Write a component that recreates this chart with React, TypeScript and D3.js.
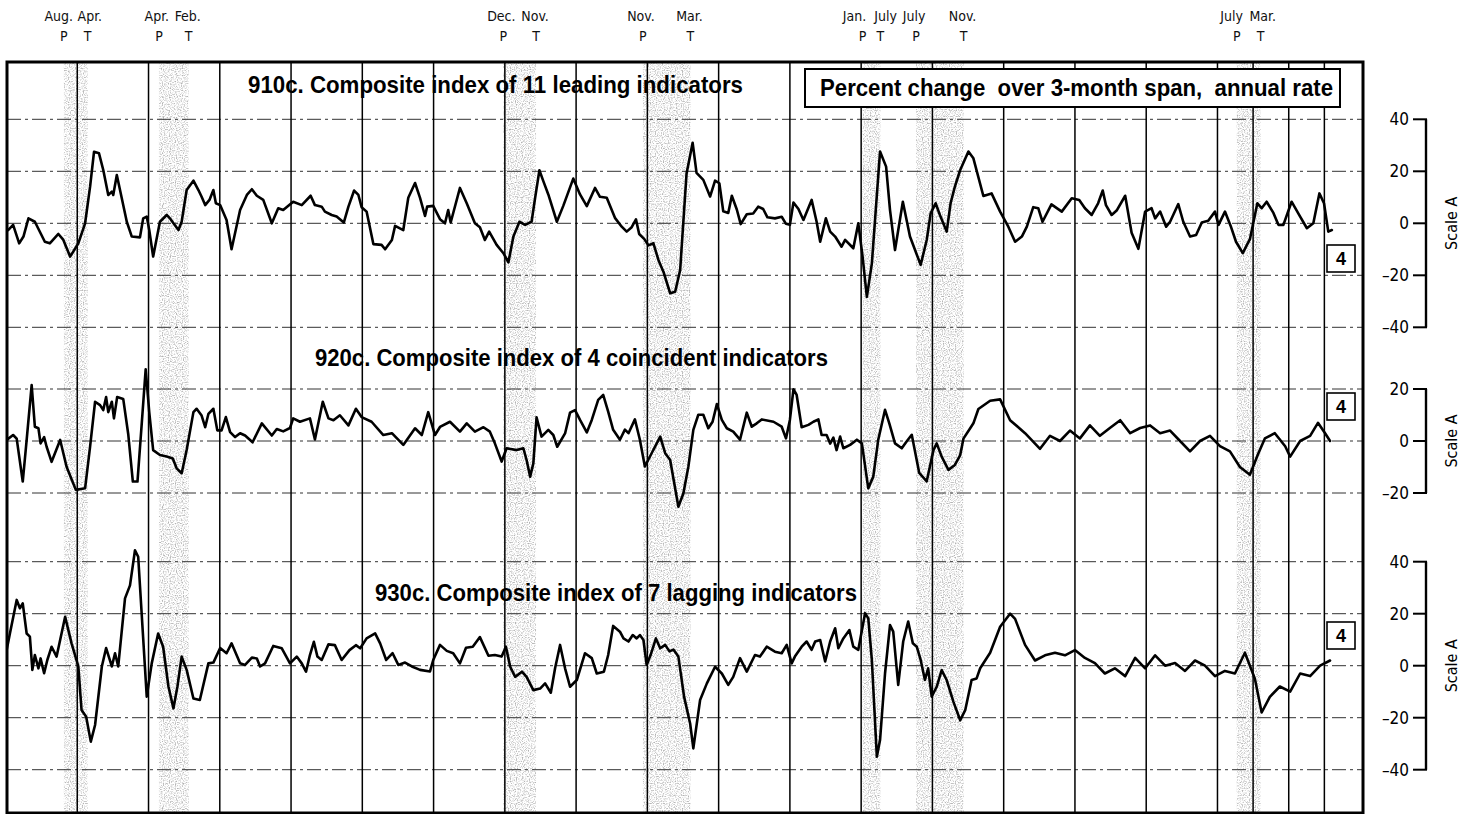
import * as d3 from "d3";

type Pt = [number, number];

// business-cycle turning points (mid-month, decimal years)
const PEAK_DATES = [1957.625, 1960.292, 1969.958, 1973.875, 1980.042, 1981.542, 1990.542];
const TROUGH_DATES = [1958.292, 1961.125, 1970.875, 1975.208, 1980.542, 1982.875, 1991.208];
const PEAK_MONTHS = ["Aug.", "Apr.", "Dec.", "Nov.", "Jan.", "July", "July"];
const TROUGH_MONTHS = ["Apr.", "Feb.", "Nov.", "Mar.", "July", "Nov.", "Mar."];

const GRID_YEARS = [1958, 1960, 1962, 1964, 1966, 1968, 1970, 1972, 1974, 1976, 1978, 1980, 1982, 1984, 1986, 1988, 1990, 1991, 1992, 1993];

const TICKS_40 = [40, 20, 0, -20, -40];
const TICKS_20 = [20, 0, -20];

const TITLES = [
  "910c. Composite index of 11 leading indicators",
  "920c. Composite index of 4 coincident indicators",
  "930c. Composite index of 7 lagging indicators",
];
const UNIT_NOTE = "Percent change  over 3-month span,  annual rate";

// 910c, percent change over 3-month span, annual rate
const LEADING: Pt[] = [
  [1956.06, -2.6], [1956.2, -0.6], [1956.37, -7.7], [1956.49, -5.1], [1956.63, 1.9], [1956.81, 0.6],
  [1957.09, -7.1], [1957.23, -7.7], [1957.47, -4.1], [1957.61, -6.4], [1957.8, -12.8], [1958.03, -7.7],
  [1958.22, 0], [1958.36, 14.1], [1958.47, 27.5], [1958.61, 26.9], [1958.73, 20.5], [1958.87, 10.9],
  [1958.97, 12.2], [1959.01, 10.9], [1959.11, 18.6], [1959.2, 12.8], [1959.39, 0.6], [1959.53, -5.1],
  [1959.76, -5.4], [1959.85, 1.9], [1959.95, 2.6], [1960.02, -2.6], [1960.13, -12.8], [1960.32, 0.6],
  [1960.51, 3.2], [1960.6, 1.9], [1960.7, 0], [1960.84, -2.6], [1960.93, 0.6], [1961.07, 12.8],
  [1961.26, 16.4], [1961.4, 12.8], [1961.49, 10.2], [1961.59, 7.0], [1961.71, 9.0], [1961.82, 12.8],
  [1961.89, 7.7], [1962.01, 7.0], [1962.19, 1.3], [1962.33, -10.0], [1962.57, 5.1], [1962.76, 10.9],
  [1962.9, 13.1], [1963.04, 10.6], [1963.22, 9.0], [1963.46, 0], [1963.64, 5.8], [1963.78, 5.1],
  [1964.06, 8.3], [1964.3, 7.0], [1964.55, 10.6], [1964.67, 7.0], [1964.86, 6.4], [1964.95, 4.5],
  [1965.14, 3.2], [1965.28, 2.6], [1965.48, 0.3], [1965.61, 6.4], [1965.77, 12.6], [1965.89, 10.9],
  [1965.98, 6.2], [1966.12, 4.5], [1966.31, -8.0], [1966.54, -8.3], [1966.64, -10.0], [1966.83, -6.4],
  [1966.92, -1.0], [1967.15, -2.6], [1967.29, 9.8], [1967.48, 15.5], [1967.62, 9.8], [1967.76, 2.8],
  [1967.82, 6.4], [1967.99, 6.7], [1968.18, 1.6], [1968.32, 0], [1968.41, 5.1], [1968.48, 0.3],
  [1968.74, 13.6], [1968.93, 7.7], [1969.16, 0], [1969.3, -1.5], [1969.44, -6.4], [1969.56, -3.2],
  [1969.77, -8.3], [1969.96, -11.5], [1970.1, -15.0], [1970.24, -5.1], [1970.41, 0.6], [1970.57, -0.6],
  [1970.75, 0.6], [1970.85, 9.8], [1970.97, 20.4], [1971.08, 16.2], [1971.22, 11.1], [1971.46, 0.6],
  [1971.64, 6.7], [1971.92, 17.2], [1972.11, 11.1], [1972.3, 6.6], [1972.53, 13.6], [1972.67, 10.2],
  [1972.86, 9.8], [1973.09, 2.1], [1973.28, -1.3], [1973.42, -3.2], [1973.56, -1.5], [1973.68, 1.5],
  [1973.77, -4.1], [1973.91, -6.0], [1974.03, -8.5], [1974.17, -7.7], [1974.31, -14.1], [1974.45, -18.6],
  [1974.64, -26.9], [1974.78, -26.3], [1974.92, -18.0], [1975.1, 19.2], [1975.27, 31.0], [1975.38, 19.4],
  [1975.57, 16.7], [1975.76, 10.3], [1975.9, 16.4], [1976.02, 15.4], [1976.13, 4.6], [1976.27, 4.0],
  [1976.37, 10.6], [1976.51, 5.3], [1976.62, -0.3], [1976.79, 3.5], [1976.97, 3.8], [1977.11, 6.4],
  [1977.25, 5.5], [1977.37, 2.3], [1977.58, 1.9], [1977.77, 2.5], [1977.89, -0.2], [1978.0, -0.6],
  [1978.1, 8.0], [1978.24, 5.5], [1978.38, 1.3], [1978.61, 9.0], [1978.75, 0.6], [1978.85, -7.1],
  [1979.01, 1.9], [1979.13, -3.2], [1979.27, -5.1], [1979.45, -9.0], [1979.55, -6.4], [1979.78, -9.6],
  [1979.92, 0], [1980.04, -12.8], [1980.16, -28.3], [1980.3, -15.5], [1980.53, 27.6], [1980.7, 21.8],
  [1980.81, 5.1], [1980.95, -10.3], [1981.17, 8.3], [1981.37, -5.1], [1981.67, -16.0], [1981.84, -6.4],
  [1981.95, 3.8], [1982.09, 7.7], [1982.21, 3.2], [1982.4, -3.2], [1982.51, 7.7], [1982.63, 14.1],
  [1982.78, 20.5], [1983.01, 27.6], [1983.15, 25.0], [1983.43, 10.5], [1983.66, 11.5], [1983.9, 4.5],
  [1984.13, -1.3], [1984.32, -7.1], [1984.51, -5.1], [1984.65, -1.3], [1984.83, 6.2], [1984.97, 5.8],
  [1985.09, 0.6], [1985.34, 7.3], [1985.63, 4.5], [1985.91, 9.6], [1986.12, 9.0], [1986.28, 5.8],
  [1986.47, 3.2], [1986.65, 7.7], [1986.78, 12.6], [1986.87, 7.0], [1987.03, 3.2], [1987.17, 4.9],
  [1987.41, 10.6], [1987.59, -3.6], [1987.78, -9.8], [1987.97, 4.5], [1988.15, 5.8], [1988.25, 1.9],
  [1988.39, 4.5], [1988.56, -1.3], [1988.67, 0.6], [1988.9, 7.4], [1989.04, 0.6], [1989.23, -5.1],
  [1989.4, -4.5], [1989.56, 0.3], [1989.74, 1.0], [1989.93, 4.5], [1990.03, -0.6], [1990.21, 4.5],
  [1990.37, -1.0], [1990.52, -7.1], [1990.71, -11.5], [1990.91, -6.1], [1991.12, 7.7], [1991.24, 5.8],
  [1991.38, 8.3], [1991.57, 4.0], [1991.71, -0.6], [1991.85, -0.6], [1992.08, 8.3], [1992.32, 2.6],
  [1992.51, -1.9], [1992.69, 0], [1992.86, 11.5], [1992.99, 7.7], [1993.11, -3.2], [1993.21, -2.6],
];

// 920c
const COINCIDENT: Pt[] = [
  [1956.02, 0.4], [1956.2, 2.3], [1956.3, 0.9], [1956.47, -15.6], [1956.58, 0.4], [1956.72, 21.5],
  [1956.81, 5.5], [1956.91, 4.9], [1956.97, -0.9], [1957.07, 1.5], [1957.14, -2.2], [1957.28, -8.0],
  [1957.52, 0.4], [1957.7, -9.9], [1957.96, -18.8], [1958.22, -18.2], [1958.36, -2.2], [1958.5, 15.1],
  [1958.64, 13.8], [1958.73, 11.9], [1958.81, 16.9], [1958.87, 11.1], [1958.97, 15.1], [1959.03, 8.7],
  [1959.12, 16.9], [1959.29, 16.2], [1959.43, 2.7], [1959.56, -15.6], [1959.69, -15.6], [1959.81, 6.8],
  [1959.92, 27.6], [1960.02, 11.1], [1960.13, -3.5], [1960.32, -5.4], [1960.51, -6.0], [1960.68, -6.7],
  [1960.79, -10.5], [1960.93, -12.4], [1961.07, -3.5], [1961.26, 11.1], [1961.35, 12.4], [1961.49, 9.8],
  [1961.59, 5.3], [1961.68, 10.4], [1961.82, 12.4], [1961.93, 4.1], [1962.05, 4.1], [1962.17, 9.2],
  [1962.29, 3.4], [1962.43, 1.5], [1962.57, 3.0], [1962.71, 2.1], [1962.92, -0.5], [1963.18, 6.8],
  [1963.46, 2.1], [1963.6, 4.6], [1963.78, 3.7], [1963.97, 5.0], [1964.06, 8.7], [1964.25, 7.4],
  [1964.53, 8.7], [1964.67, 0.6], [1964.89, 15.1], [1965.05, 8.7], [1965.19, 8.0], [1965.37, 9.9],
  [1965.61, 6.0], [1965.82, 12.4], [1965.98, 9.2], [1966.26, 7.4], [1966.59, 2.3], [1966.83, 3.0],
  [1967.15, -1.5], [1967.48, 4.9], [1967.67, 2.3], [1967.85, 11.1], [1968.04, 2.3], [1968.18, 5.4],
  [1968.46, 7.4], [1968.74, 3.6], [1968.93, 6.8], [1969.16, 3.6], [1969.4, 5.3], [1969.58, 3.6],
  [1969.72, -0.9], [1969.91, -7.9], [1970.05, -2.8], [1970.33, -3.5], [1970.52, -2.8], [1970.61, -7.3],
  [1970.71, -13.7], [1970.8, -8.6], [1970.89, 9.1], [1971.03, 1.7], [1971.22, 4.3], [1971.36, 2.3],
  [1971.47, -2.2], [1971.69, 2.9], [1971.83, 10.9], [1971.97, 11.9], [1972.11, 8.1], [1972.3, 3.3],
  [1972.44, 8.1], [1972.62, 15.8], [1972.76, 17.7], [1972.9, 11.3], [1973.04, 4.3], [1973.23, 0.5],
  [1973.37, 4.4], [1973.47, 3.0], [1973.65, 8.3], [1973.79, 0.5], [1973.93, -9.8], [1974.12, -4.7],
  [1974.36, 1.7], [1974.5, -4.7], [1974.64, -7.3], [1974.87, -25.3], [1975.01, -20.2], [1975.15, -9.9],
  [1975.29, 4.3], [1975.43, 10.1], [1975.57, 10.1], [1975.71, 4.9], [1975.83, 7.4], [1975.95, 14.2],
  [1976.09, 8.1], [1976.23, 4.9], [1976.41, 3.6], [1976.6, 0.5], [1976.79, 10.9], [1976.93, 5.5],
  [1977.07, 6.8], [1977.21, 8.3], [1977.54, 7.4], [1977.77, 5.5], [1977.89, 1.0], [1978.0, 8.1],
  [1978.1, 19.9], [1978.19, 17.7], [1978.33, 5.3], [1978.52, 6.2], [1978.66, 7.4], [1978.8, 8.3],
  [1978.89, 2.3], [1979.03, 2.3], [1979.13, -1.0], [1979.22, 1.3], [1979.31, -3.5], [1979.41, 1.7],
  [1979.5, -2.8], [1979.69, -1.5], [1979.88, 0.5], [1980.02, -0.9], [1980.2, -18.2], [1980.34, -13.7],
  [1980.48, 0.5], [1980.67, 12.0], [1980.79, 6.8], [1980.95, -0.9], [1981.14, -2.8], [1981.28, -0.1],
  [1981.42, 2.4], [1981.63, -12.3], [1981.84, -15.5], [1982.03, -3.5], [1982.12, -0.9], [1982.26, -6.0],
  [1982.45, -11.1], [1982.63, -9.2], [1982.78, -5.4], [1982.87, 0.9], [1983.06, 4.9], [1983.15, 6.8],
  [1983.29, 12.3], [1983.62, 15.5], [1983.9, 16.0], [1984.18, 8.0], [1984.6, 3.0], [1985.02, -3.0],
  [1985.3, 2.0], [1985.58, 0], [1985.86, 4.0], [1986.14, 1.0], [1986.42, 6.0], [1986.7, 2.0],
  [1986.98, 5.0], [1987.27, 8.0], [1987.55, 3.0], [1987.83, 5.0], [1988.11, 6.0], [1988.39, 3.0],
  [1988.67, 4.0], [1988.95, 0], [1989.23, -4.0], [1989.51, 0], [1989.79, 2.0], [1990.07, -2.0],
  [1990.35, -4.0], [1990.63, -10.0], [1990.91, -13.0], [1991.14, -5.0], [1991.33, 1.0], [1991.61, 3.0],
  [1991.9, -2.0], [1992.04, -6.0], [1992.32, 0], [1992.6, 2.0], [1992.82, 7.0], [1993.02, 3.0],
  [1993.16, 0],
];

// 930c
const LAGGING: Pt[] = [
  [1956.0, 4.8], [1956.11, 12.4], [1956.3, 25.3], [1956.39, 22.1], [1956.47, 24.0], [1956.58, 12.4],
  [1956.67, 11.2], [1956.74, -1.6], [1956.81, 4.1], [1956.91, -1.0], [1956.97, 2.8], [1957.07, -2.9],
  [1957.16, 2.2], [1957.28, 7.3], [1957.42, 3.5], [1957.66, 18.8], [1957.84, 8.6], [1958.03, -0.3],
  [1958.12, -17.0], [1958.25, -19.6], [1958.38, -29.2], [1958.5, -22.8], [1958.69, -0.3], [1958.81, 6.8],
  [1958.97, -0.3], [1959.06, 4.8], [1959.15, -0.3], [1959.34, 25.9], [1959.48, 30.9], [1959.62, 44.4],
  [1959.71, 41.9], [1959.95, -11.9], [1960.09, 0.9], [1960.27, 12.4], [1960.41, 7.3], [1960.56, -8.1],
  [1960.7, -16.4], [1960.81, -8.1], [1960.93, 3.5], [1961.07, -1.6], [1961.26, -12.6], [1961.44, -13.2],
  [1961.68, 0.9], [1961.82, 1.2], [1962.01, 6.8], [1962.19, 4.8], [1962.33, 8.6], [1962.57, 0.9],
  [1962.71, 0.3], [1962.9, 3.1], [1963.04, 2.8], [1963.13, -0.3], [1963.27, 0.9], [1963.5, 7.6],
  [1963.74, 6.7], [1963.97, 0.9], [1964.16, 3.5], [1964.3, 0.9], [1964.42, -2.3], [1964.53, 4.1],
  [1964.64, 9.2], [1964.74, 3.5], [1964.86, 2.2], [1965.05, 8.2], [1965.23, 7.9], [1965.42, 2.2],
  [1965.64, 6.0], [1965.82, 7.9], [1965.94, 6.7], [1966.12, 10.5], [1966.36, 12.4], [1966.5, 8.6],
  [1966.67, 2.2], [1966.85, 4.8], [1967.01, 0.3], [1967.2, 1.2], [1967.39, -0.3], [1967.62, -1.6],
  [1967.9, -2.2], [1967.99, 2.2], [1968.18, 8.0], [1968.37, 5.7], [1968.55, 4.8], [1968.74, 0.9],
  [1968.91, 6.9], [1969.1, 7.3], [1969.3, 11.0], [1969.54, 3.8], [1969.72, 4.1], [1969.91, 3.5],
  [1970.03, 7.3], [1970.15, -0.4], [1970.29, -4.3], [1970.48, -2.3], [1970.61, -4.3], [1970.8, -9.4],
  [1970.99, -8.8], [1971.13, -6.8], [1971.29, -10.4], [1971.41, -1.0], [1971.55, 8.0], [1971.69, -1.0],
  [1971.83, -8.1], [1972.02, -5.5], [1972.25, 4.8], [1972.44, 2.9], [1972.58, -3.0], [1972.78, -2.3],
  [1972.9, 4.1], [1973.04, 15.3], [1973.23, 13.1], [1973.33, 10.5], [1973.47, 9.3], [1973.59, 11.8],
  [1973.7, 10.5], [1973.79, 11.8], [1973.89, 9.9], [1973.98, 0.3], [1974.09, 4.1], [1974.24, 10.5],
  [1974.36, 6.7], [1974.5, 8.0], [1974.62, 5.5], [1974.73, 6.2], [1974.87, 3.5], [1975.03, -11.9],
  [1975.2, -22.2], [1975.29, -31.8], [1975.48, -13.2], [1975.67, -6.8], [1975.9, -0.4], [1976.09, -3.0],
  [1976.27, -7.4], [1976.41, -4.3], [1976.6, 2.9], [1976.79, -2.3], [1977.02, 4.1], [1977.16, 3.5],
  [1977.35, 7.3], [1977.58, 5.4], [1977.77, 4.8], [1977.91, 8.0], [1978.05, 0.9], [1978.14, 3.5],
  [1978.33, 7.3], [1978.47, 9.3], [1978.61, 6.1], [1978.71, 9.3], [1978.85, 9.9], [1978.99, 1.6],
  [1979.13, 9.3], [1979.27, 14.4], [1979.36, 6.7], [1979.5, 10.5], [1979.67, 13.7], [1979.78, 7.3],
  [1979.92, 6.1], [1980.11, 20.2], [1980.2, 18.2], [1980.3, 2.2], [1980.44, -35.0], [1980.53, -28.6],
  [1980.67, -3.0], [1980.81, 15.6], [1980.9, 13.1], [1981.04, -7.4], [1981.18, 9.3], [1981.32, 17.0],
  [1981.45, 8.6], [1981.56, 7.3], [1981.67, 2.2], [1981.79, -5.5], [1981.88, -1.0], [1981.98, -11.9],
  [1982.12, -8.1], [1982.26, -1.7], [1982.4, -5.5], [1982.59, -13.9], [1982.78, -21.0], [1982.92, -17.1],
  [1983.1, -5.5], [1983.24, -4.9], [1983.34, -1.0], [1983.62, 5.0], [1983.9, 15.0], [1984.18, 20.0],
  [1984.32, 18.0], [1984.6, 8.0], [1984.88, 2.0], [1985.16, 4.0], [1985.44, 5.0], [1985.72, 4.0],
  [1986.0, 6.0], [1986.28, 3.0], [1986.56, 1.0], [1986.84, -3.0], [1987.12, -1.0], [1987.41, -4.0],
  [1987.69, 3.0], [1987.97, -1.0], [1988.25, 4.0], [1988.53, 0], [1988.81, 1.0], [1989.09, -2.0],
  [1989.37, 2.0], [1989.65, 0], [1989.93, -4.0], [1990.21, -2.0], [1990.49, -3.0], [1990.77, 5.0],
  [1991.05, -5.0], [1991.24, -18.0], [1991.47, -12.0], [1991.75, -8.0], [1992.04, -10.0], [1992.32, -3.0],
  [1992.6, -4.0], [1992.88, 0], [1993.16, 2.0],
];

const NARROW = "'Liberation Sans Narrow', 'Arial Narrow', 'DejaVu Sans Condensed', 'Liberation Sans', sans-serif";
const BOLD = "'Liberation Sans', Arial, sans-serif";

const W = 1468;
const H = 814;
const FRAME = { left: 7, right: 1363, top: 62, bottom: 813 };

interface PanelSpec {
  data: Pt[];
  title: string;
  zero: number;
  max: number;
  ticks: number[];
  titleX: number;
  titleY: number;
  titleLen: number;
  boxY: number;
}

export default function App() {
  const x = d3.scaleLinear().domain([1956, 1994]).range([6, 1360]);
  const pxPerUnit = 2.6;

  const panels: PanelSpec[] = [
    { data: LEADING, title: TITLES[0], zero: 223.3, max: 40, ticks: TICKS_40, titleX: 248, titleY: 93, titleLen: 495, boxY: 245 },
    { data: COINCIDENT, title: TITLES[1], zero: 441, max: 20, ticks: TICKS_20, titleX: 315, titleY: 366, titleLen: 513, boxY: 393 },
    { data: LAGGING, title: TITLES[2], zero: 665.7, max: 40, ticks: TICKS_40, titleX: 375, titleY: 601, titleLen: 482, boxY: 622 },
  ];

  const scales = panels.map((p) =>
    d3.scaleLinear().domain([-p.max, p.max]).range([p.zero + p.max * pxPerUnit, p.zero - p.max * pxPerUnit])
  );

  // nudge P / T labels apart when a recession is short
  const labelPos = PEAK_DATES.map((pd, i) => {
    const px = x(pd);
    const tx = x(TROUGH_DATES[i]);
    const need = 30;
    const gap = tx - px;
    const shift = gap < need ? (need - gap) / 2 : 0;
    const needL = 13;
    const shiftL = gap < needL ? (needL - gap) / 2 : 0;
    return { pm: px - shift - 2, tm: tx + shift - 1, pl: px - shiftL, tl: tx + shiftL };
  });

  return (
    <svg
      width={W}
      height={H}
      viewBox={`0 0 ${W} ${H}`}
      style={{ position: "absolute", left: 0, top: 0, background: "#fff" }}
    >
      <defs>
        <filter id="stipple" x="0" y="0" width="100%" height="100%">
          <feTurbulence type="fractalNoise" baseFrequency="0.85" numOctaves="1" seed="7" result="noise" />
          <feColorMatrix
            in="noise"
            type="matrix"
            values="0 0 0 0 0.45  0 0 0 0 0.45  0 0 0 0 0.45  0 0 0 -3.2 1.75"
            result="dots"
          />
          <feComposite in="dots" in2="SourceGraphic" operator="in" />
        </filter>
        <clipPath id="plotClip">
          <rect x={FRAME.left} y={FRAME.top} width={FRAME.right - FRAME.left} height={FRAME.bottom - FRAME.top} />
        </clipPath>
      </defs>

      {/* recession shading */}
      <g filter="url(#stipple)">
        {PEAK_DATES.map((pd, i) => (
          <rect
            key={i}
            x={x(pd)}
            y={FRAME.top}
            width={x(TROUGH_DATES[i]) - x(pd)}
            height={FRAME.bottom - FRAME.top}
            fill="#000"
          />
        ))}
      </g>

      {/* turning point labels */}
      <g fontFamily={NARROW} fontSize={14} textAnchor="middle" fill="#111">
        {labelPos.map((l, i) => (
          <g key={i}>
            <text x={l.pm} y={21}>{PEAK_MONTHS[i]}</text>
            <text x={l.tm} y={21}>{TROUGH_MONTHS[i]}</text>
            <text x={l.pl} y={41}>P</text>
            <text x={l.tl} y={41}>T</text>
          </g>
        ))}
      </g>

      {/* titles */}
      {panels.map((p, i) => (
        <text
          key={i}
          x={p.titleX}
          y={p.titleY}
          fontFamily={BOLD}
          fontWeight="bold"
          fontSize={24}
          textLength={p.titleLen}
          lengthAdjust="spacingAndGlyphs"
          fill="#000"
        >
          {p.title}
        </text>
      ))}

      {/* horizontal grid */}
      <g stroke="#333" strokeWidth={1} strokeDasharray="14 4 3 4">
        {panels.map((p, i) =>
          p.ticks.map((t) => (
            <line key={`${i}-${t}`} x1={FRAME.left} x2={FRAME.right} y1={scales[i](t)} y2={scales[i](t)} />
          ))
        )}
      </g>

      {/* vertical year grid */}
      <g stroke="#000" strokeWidth={1.5}>
        {GRID_YEARS.map((yr) => (
          <line key={yr} x1={x(yr)} x2={x(yr)} y1={FRAME.top} y2={FRAME.bottom} />
        ))}
      </g>

      {/* unit note box */}
      <rect x={805} y={69} width={535} height={38} fill="#fff" stroke="#000" strokeWidth={2} />
      <text
        x={820}
        y={96}
        fontFamily={BOLD}
        fontWeight="bold"
        fontSize={23}
        textLength={513}
        lengthAdjust="spacingAndGlyphs"
        xmlSpace="preserve"
        style={{ whiteSpace: "pre" }}
      >
        {UNIT_NOTE}
      </text>

      {/* series lines */}
      <g clipPath="url(#plotClip)">
        {panels.map((p, i) => {
          const line = d3
            .line<Pt>()
            .x((d) => x(d[0]))
            .y((d) => scales[i](d[1]))
            .curve(d3.curveLinear);
          return (
            <path
              key={i}
              d={line(p.data) ?? ""}
              fill="none"
              stroke="#000"
              strokeWidth={2.6}
              strokeLinejoin="round"
              strokeLinecap="round"
            />
          );
        })}
      </g>

      {/* span boxes */}
      {panels.map((p, i) => (
        <g key={i}>
          <rect x={1327} y={p.boxY} width={28} height={27} fill="#fff" stroke="#000" strokeWidth={1.6} />
          <text x={1341} y={p.boxY + 20} textAnchor="middle" fontFamily={BOLD} fontWeight="bold" fontSize={18}>
            4
          </text>
        </g>
      ))}

      {/* frame */}
      <rect
        x={FRAME.left}
        y={FRAME.top}
        width={FRAME.right - FRAME.left}
        height={FRAME.bottom - FRAME.top}
        fill="none"
        stroke="#000"
        strokeWidth={3}
      />

      {/* right-hand scales */}
      {panels.map((p, i) => {
        const s = scales[i];
        return (
          <g key={i}>
            <line x1={1426} x2={1426} y1={s(p.max)} y2={s(-p.max)} stroke="#000" strokeWidth={2.4} />
            {p.ticks.map((t) => (
              <g key={t}>
                <line x1={1413} x2={1427} y1={s(t)} y2={s(t)} stroke="#000" strokeWidth={2} />
                <text
                  x={1409}
                  y={s(t) + 6}
                  textAnchor="end"
                  fontFamily={NARROW}
                  fontSize={17}
                  fill="#000"
                >
                  {t < 0 ? `–${-t}` : `${t}`}
                </text>
              </g>
            ))}
            <text
              transform={`translate(1457,${p.zero}) rotate(-90)`}
              textAnchor="middle"
              fontFamily={NARROW}
              fontSize={16}
              fill="#000"
            >
              Scale A
            </text>
          </g>
        );
      })}
    </svg>
  );
}
